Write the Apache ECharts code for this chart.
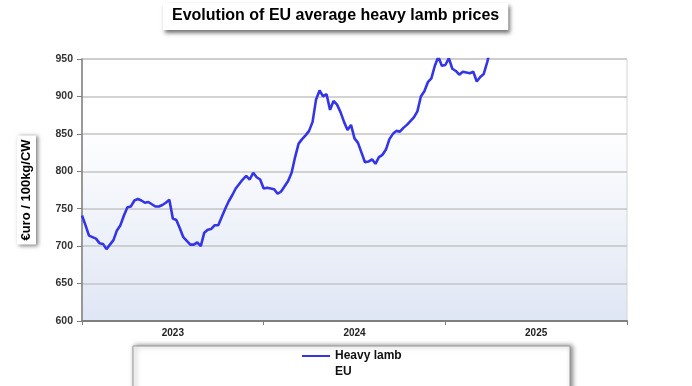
<!DOCTYPE html>
<html>
<head>
<meta charset="utf-8">
<script src="https://cdn.jsdelivr.net/npm/echarts@6/dist/echarts.min.js"></script>
<style>html,body{margin:0;padding:0;background:#fff;}#c{width:692px;height:386px;}</style>
</head>
<body>
<div id="c"></div>
<script>
// ---- data ----
var titleText = 'Evolution of EU average heavy lamb prices';
var yAxisName = '€uro / 100kg/CW';
var seriesName = 'Heavy lamb';
var seriesSub = 'EU';
var yearLabels = ['2023', '2024', '2025'];
var weeksPerYear = 52;
var yMin = 600, yMax = 950, yStep = 50;
// weekly prices (week index from start of 2023)
var prices = [
  741, 728, 714, 712, 710, 704, 703, 696, 702, 708,
  721, 728, 741, 752, 753, 761, 763, 761, 758, 759,
  756, 753, 753, 755, 758, 762, 737, 735, 724, 712,
  707, 702, 702, 705, 700, 718, 722, 723, 728, 728,
  739, 750, 760, 768, 777, 783, 789, 794, 789, 798,
  792, 789, 777, 778, 777, 776, 770, 773, 780, 787,
  798, 819, 837, 843, 848, 854, 866, 896, 908, 900,
  903, 882, 894, 889, 879, 866, 855, 862, 844, 838,
  825, 812, 813, 816, 810, 819, 822, 829, 843, 850,
  854, 853, 858, 862, 867, 872, 880, 900, 907, 919,
  924, 941, 953, 941, 942, 951, 937, 934, 929, 933,
  932, 931, 933, 920, 926, 930, 946, 965
];

var font = '"Liberation Sans", Arial, sans-serif';
var chart = echarts.init(document.getElementById('c'));
var pts = prices.map(function (v, i) { return [i, v]; });

chart.setOption({
  animation: false,
  title: {
    text: titleText,
    left: 163,
    top: 3,
    padding: [5, 9, 6, 9],
    backgroundColor: '#ffffff',
    shadowBlur: 4,
    shadowColor: 'rgba(0,0,0,0.55)',
    shadowOffsetX: 2,
    shadowOffsetY: 3,
    textStyle: { fontFamily: font, fontSize: 16, fontWeight: 'bold', color: '#000' }
  },
  graphic: [{
    type: 'rect',
    shape: { x: 133, y: 346, width: 437, height: 50 },
    style: { fill: '#fff', stroke: '#999', lineWidth: 1, shadowBlur: 5, shadowColor: 'rgba(0,0,0,0.5)', shadowOffsetX: 2, shadowOffsetY: 0 },
    z: -1
  }, {
    type: 'text',
    left: 335,
    top: 366,
    style: { text: seriesSub, fontFamily: font, fontSize: 12, fontWeight: 'bold', fill: '#111' }
  }],
  legend: {
    left: 297,
    top: 345,
    itemWidth: 28,
    itemHeight: 14,
    itemGap: 4,
    icon: 'path://M0,6L28,6L28,8L0,8Z',
    data: [seriesName],
    textStyle: { fontFamily: font, fontSize: 12, fontWeight: 'bold', color: '#111' }
  },
  grid: {
    left: 82, right: 65, top: 59, bottom: 65,
    show: true,
    borderWidth: 1,
    borderColor: '#d4d4d4',
    backgroundColor: new echarts.graphic.LinearGradient(0, 0, 0, 1, [
      { offset: 0, color: '#ffffff' },
      { offset: 0.25, color: '#ffffff' },
      { offset: 1, color: '#dfe6f4' }
    ])
  },
  xAxis: [{
    type: 'value',
    min: 0,
    max: weeksPerYear * yearLabels.length,
    interval: weeksPerYear,
    axisLine: { show: true, lineStyle: { color: '#7f7f7f', width: 2 } },
    axisTick: { show: true, length: 4, lineStyle: { color: '#7f7f7f' } },
    axisLabel: { show: false },
    splitLine: { show: false }
  }, {
    type: 'category',
    position: 'bottom',
    data: yearLabels,
    boundaryGap: true,
    axisLine: { show: false },
    axisTick: { show: false },
    axisLabel: { fontFamily: font, fontSize: 10, fontWeight: 'bold', color: '#222', margin: 7 },
    splitLine: { show: false }
  }],
  yAxis: {
    type: 'value',
    min: yMin, max: yMax, interval: yStep,
    name: yAxisName,
    nameLocation: 'middle',
    nameRotate: 90,
    nameGap: 46,
    nameTextStyle: {
      fontFamily: font, fontSize: 13, fontWeight: 'bold', color: '#000',
      backgroundColor: '#fff', padding: [3, 4, 3, 4],
      shadowBlur: 4, shadowColor: 'rgba(0,0,0,0.5)', shadowOffsetX: 2, shadowOffsetY: 1
    },
    axisLine: { show: true, lineStyle: { color: '#7f7f7f', width: 1.5 } },
    axisTick: { show: true, length: 5, lineStyle: { color: '#7f7f7f' } },
    axisLabel: { fontFamily: font, fontSize: 10.5, fontWeight: 'bold', color: '#333', margin: 9 },
    splitLine: { show: true, lineStyle: { color: '#c4c4c4', width: 1.5 } }
  },
  series: [{
    name: seriesName,
    type: 'line',
    xAxisIndex: 0,
    data: pts,
    showSymbol: false,
    clip: true,
    lineStyle: { color: '#3535e8', width: 2.6 },
    itemStyle: { color: '#3535e8' }
  }]
});
</script>
</body>
</html>
